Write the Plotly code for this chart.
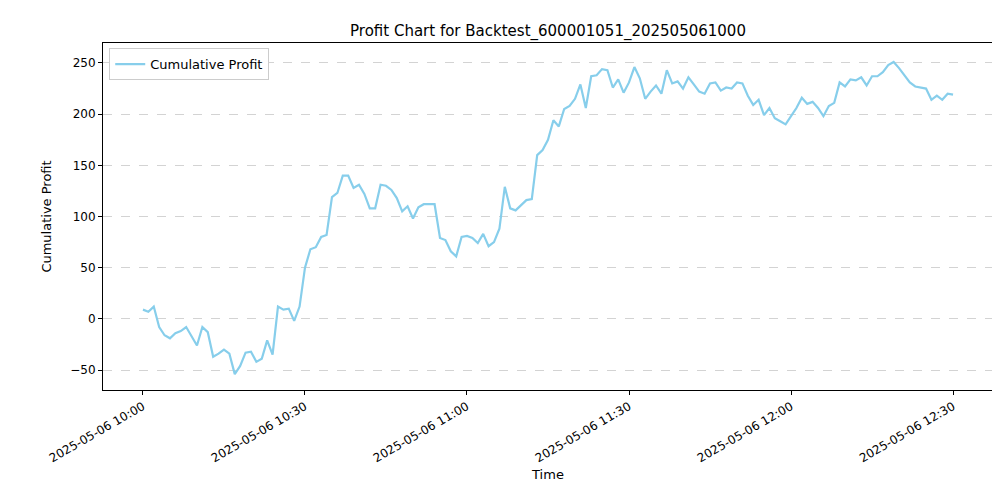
import plotly.graph_objects as go
import pandas as pd

profit = [9,7,12,-8,-16,-19,-14,-12,-8,-17,-26,-8,-13,-37,-34,-30,-34,-54,-46,-33,
          -32,-42,-39,-21,-35,12,9,10,-2,12,50,68,70,80,82,119,123,140,140,128,
          131,122,108,108,131,130,126,118,105,110,98,109,112,112,112,79,77,66,61,80,
          81,79,74,83,71,75,88,129,108,106,111,116,117,160,165,175,194,188,205,208,
          215,229,206,237,238,244,243,226,234,221,231,246,235,215,222,228,220,243,230,232,
          225,236,229,222,220,230,231,223,226,225,231,230,218,209,214,199,206,196,193,190,
          198,206,216,210,212,206,198,208,211,231,227,234,233,236,228,237,237,241,248,251,
          245,238,231,227,226,225,214,218,214,220,219]
times = pd.date_range("2025-05-06 10:00", periods=len(profit), freq="1min")
tick_vals = pd.date_range("2025-05-06 10:00", "2025-05-06 12:30", freq="30min")
tick_text = [t.strftime("%Y-%m-%d %H:%M") for t in tick_vals]

fig = go.Figure(go.Scatter(x=times, y=profit, mode="lines", name="Cumulative Profit",
                           line=dict(color="skyblue", width=2.2)))
x0 = pd.Timestamp("2025-05-06 10:00") - pd.Timedelta(minutes=7.4)
x1 = pd.Timestamp("2025-05-06 10:00") + pd.Timedelta(minutes=157.4)
axis_common = dict(showline=True, linecolor="black", mirror=True, ticks="outside",
                   tickcolor="black", ticklen=4, zeroline=False, automargin=False,
                   tickfont=dict(size=12, color="black"))
fig.update_layout(
    width=1000, height=500, paper_bgcolor="white", plot_bgcolor="white",
    font=dict(family="DejaVu Sans", color="black"),
    margin=dict(l=95, r=15, t=35, b=118, autoexpand=False),
    title=dict(text="Profit Chart for Backtest_600001051_202505061000", x=0.54, xanchor="center",
               y=0.955, yanchor="middle", font=dict(size=15), automargin=False),
    xaxis=dict(range=[x0, x1], tickvals=tick_vals, ticktext=tick_text, tickangle=-30,
               showgrid=False, title=dict(text="Time", font=dict(size=13), standoff=5), **axis_common),
    yaxis=dict(range=[-69.5, 269.5], tickvals=[-50, 0, 50, 100, 150, 200, 250],
               showgrid=True, gridcolor="#d3d3d3", griddash="dash",
               title=dict(text="Cumulative Profit", font=dict(size=13)), **axis_common),
    showlegend=True,
    legend=dict(x=0.007, y=0.985, xanchor="left", yanchor="top", bordercolor="#cccccc",
                borderwidth=1, bgcolor="white", font=dict(size=13)),
)
fig.write_html("out.html")
